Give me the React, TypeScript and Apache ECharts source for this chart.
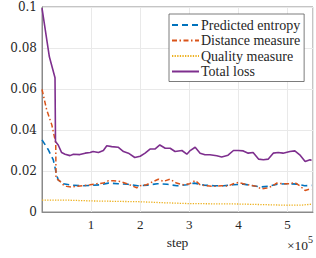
import React, { useEffect, useRef } from "react";
import * as echarts from "echarts";

const seriesNames = ["Predicted entropy", "Distance measure", "Quality measure", "Total loss"];

const entropySteps = [0, 13000, 23000, 30000, 33000, 43000, 60000, 80000, 100000, 120000, 135000, 155000, 175000, 195000, 215000, 235000, 255000, 275000, 295000, 310000, 330000, 350000, 370000, 390000, 410000, 430000, 445000, 460000, 480000, 500000, 520000, 535000, 549000];
const entropyValues = [0.0352, 0.0303, 0.0254, 0.018, 0.0157, 0.0138, 0.0131, 0.0128, 0.013, 0.0133, 0.0141, 0.0138, 0.0135, 0.0128, 0.0131, 0.0138, 0.0135, 0.0128, 0.0133, 0.0141, 0.0131, 0.0128, 0.0128, 0.0133, 0.0136, 0.0128, 0.0122, 0.0125, 0.0136, 0.0138, 0.0136, 0.0128, 0.013];

const distanceSteps = [0, 9600, 20000, 24400, 28000, 28500, 37000, 43000, 50000, 60000, 71000, 84000, 98000, 111000, 125000, 135000, 145000, 159000, 173000, 186000, 193000, 200000, 213000, 227000, 237000, 247000, 261000, 274000, 288000, 301000, 312000, 322000, 335000, 352000, 366000, 379000, 390000, 400000, 410000, 424000, 437000, 447000, 458000, 468000, 478000, 491000, 505000, 515000, 525000, 536000, 546000, 549000];
const distanceValues = [0.0598, 0.0498, 0.0425, 0.0376, 0.0336, 0.0165, 0.0149, 0.0133, 0.0125, 0.0122, 0.0125, 0.0128, 0.0133, 0.0138, 0.0141, 0.0152, 0.0152, 0.0149, 0.0138, 0.0125, 0.0118, 0.0128, 0.0133, 0.0149, 0.016, 0.0149, 0.016, 0.0141, 0.0133, 0.0138, 0.0154, 0.0133, 0.0128, 0.0125, 0.0128, 0.0127, 0.0138, 0.0144, 0.0138, 0.0131, 0.0125, 0.0112, 0.0117, 0.0125, 0.0141, 0.0138, 0.0138, 0.0144, 0.0128, 0.0105, 0.0112, 0.011];

const qualitySteps = [0, 50000, 100000, 150000, 200000, 250000, 300000, 350000, 400000, 450000, 500000, 530000, 549000];
const qualityValues = [0.0058, 0.0058, 0.0054, 0.0052, 0.005, 0.0045, 0.0041, 0.004, 0.0039, 0.0036, 0.0033, 0.0034, 0.0038];

const lossSteps = [0, 15000, 26500, 27500, 33000, 40000, 47000, 57000, 64000, 77000, 88000, 98000, 104000, 115000, 125000, 132000, 142000, 155000, 166000, 176000, 189000, 200000, 210000, 220000, 230000, 240000, 251000, 261000, 271000, 285000, 295000, 301000, 312000, 322000, 332000, 342000, 356000, 366000, 379000, 390000, 400000, 410000, 420000, 430000, 441000, 451000, 461000, 471000, 481000, 491000, 505000, 515000, 525000, 536000, 546000, 549000];
const lossValues = [0.0995, 0.0757, 0.0655, 0.0344, 0.0327, 0.029, 0.0282, 0.0275, 0.0282, 0.028, 0.0287, 0.029, 0.0295, 0.029, 0.03, 0.0323, 0.0319, 0.0316, 0.0295, 0.0287, 0.0266, 0.0272, 0.0287, 0.0307, 0.0307, 0.0327, 0.0311, 0.0311, 0.0295, 0.03, 0.0282, 0.0298, 0.0316, 0.0287, 0.0279, 0.0279, 0.0274, 0.0268, 0.0277, 0.03, 0.03, 0.0298, 0.0287, 0.029, 0.0258, 0.0255, 0.0258, 0.0287, 0.029, 0.0287, 0.0295, 0.0298, 0.0279, 0.0246, 0.0255, 0.0251];

const xTickValues = [100000, 200000, 300000, 400000, 500000];
const xAxisName = "step";

const FONT = "DejaVu Serif";
const FONT2 = "serif";
const FONT3 = "Liberation Serif";

function pairs(xs: number[], ys: number[]) {
  return xs.map((x, i) => [x, ys[i]]);
}

export default function App() {
  const ref = useRef<HTMLDivElement>(null);
  useEffect(() => {
    if (!ref.current) return;
    const chart = echarts.init(ref.current, undefined, { renderer: "svg" });
    const lineBase = { type: "line", showSymbol: false, symbol: "none", animation: false };
    chart.setOption({
      animation: false,
      backgroundColor: "#ffffff",
      grid: {
        left: 42,
        right: 3,
        top: 7,
        bottom: 46,
        show: true,
        borderColor: "#8a8a8a",
        borderWidth: 1,
        backgroundColor: "transparent",
      },
      legend: {
        orient: "vertical",
        left: 169,
        top: 14,
        itemWidth: 27,
        itemHeight: 10,
        itemGap: 1.5,
        padding: [4, 4, 3, 2],
        backgroundColor: "#ffffff",
        borderColor: "#5a5a5a",
        borderWidth: 0.8,
        borderRadius: 0,
        itemStyle: { opacity: 0 },
        data: seriesNames,
        textStyle: { fontFamily: FONT3, fontSize: 14, lineHeight: 14, color: "#262626", padding: [0, 0, 0, -3] },
      },
      xAxis: {
        type: "value",
        min: 0,
        max: 552000,
        interval: 100000,
        name: xAxisName,
        nameLocation: "middle",
        nameGap: 23,
        nameTextStyle: { fontFamily: FONT3, fontSize: 13.5, color: "#262626" },
        axisLine: { show: true, lineStyle: { color: "#8a8a8a" } },
        axisTick: { show: false },
        splitLine: { show: true, lineStyle: { color: "#e9e9e9", width: 1 } },
        axisLabel: {
          margin: 6,
          fontFamily: FONT2,
          fontSize: 13,
          color: "#262626",
          showMaxLabel: false,
          formatter: (v: number) => (xTickValues.includes(v) ? String(v / 100000) : ""),
        },
      },
      yAxis: {
        type: "value",
        min: 0,
        max: 0.1,
        interval: 0.02,
        axisLine: { show: true, lineStyle: { color: "#8a8a8a" } },
        axisTick: { show: false },
        splitLine: { show: true, lineStyle: { color: "#e9e9e9", width: 1 } },
        axisLabel: {
          margin: 5,
          fontFamily: FONT,
          fontSize: 12,
          color: "#262626",
          formatter: (v: number) => String(Math.round(v * 100) / 100),
        },
      },
      graphic: [
        {
          type: "text",
          right: 3,
          top: 234,
          style: {
            text: "{a|×10}{b|5}",
            rich: {
              a: { fontFamily: FONT3, fontSize: 13.5, fill: "#262626", verticalAlign: "bottom" },
              b: { fontFamily: FONT3, fontSize: 10, fill: "#262626", verticalAlign: "top", padding: [0, 0, 8, 0] },
            },
          },
        },
      ],
      series: [
        {
          ...lineBase,
          name: seriesNames[0],
          data: pairs(entropySteps, entropyValues),
          z: 2,
          lineStyle: { color: "#0072BD", width: 1.6, type: [6, 4] },
          itemStyle: { color: "#0072BD" },
        },
        {
          ...lineBase,
          name: seriesNames[1],
          data: pairs(distanceSteps, distanceValues),
          z: 3,
          lineStyle: { color: "#D95319", width: 1.5, type: [5, 2.5, 1.5, 2.5] },
          itemStyle: { color: "#D95319" },
        },
        {
          ...lineBase,
          name: seriesNames[2],
          data: pairs(qualitySteps, qualityValues),
          z: 2,
          lineStyle: { color: "#EDB120", width: 1.3, type: [1.3, 1.3] },
          itemStyle: { color: "#EDB120" },
        },
        {
          ...lineBase,
          name: seriesNames[3],
          data: pairs(lossSteps, lossValues),
          z: 4,
          lineStyle: { color: "#7E2F8E", width: 1.6, type: "solid" },
          itemStyle: { color: "#7E2F8E" },
        },
      ],
    });
    return () => chart.dispose();
  }, []);
  return <div ref={ref} style={{ position: "fixed", left: 0, top: 0, width: 316, height: 258 }} />;
}
